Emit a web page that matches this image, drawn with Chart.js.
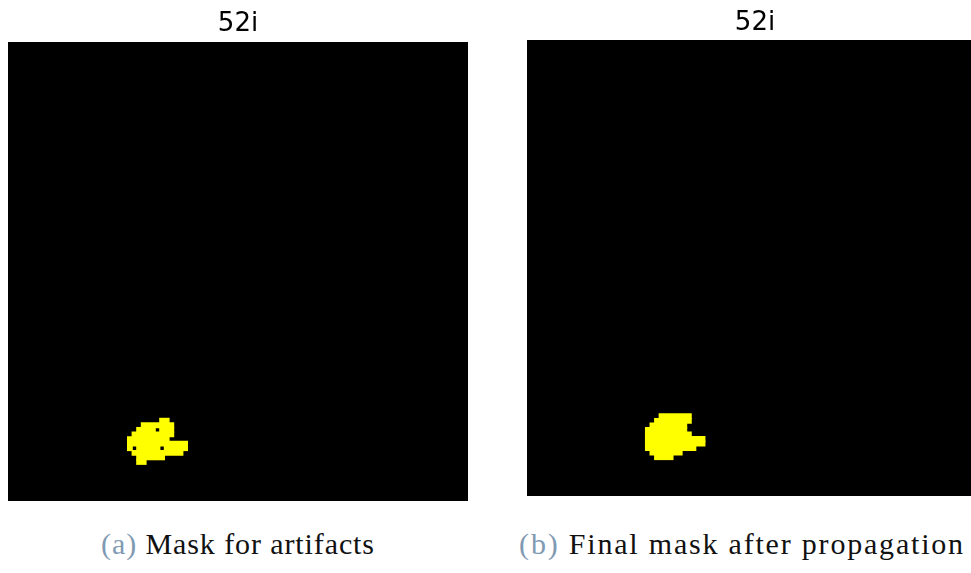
<!DOCTYPE html>
<html>
<head>
<meta charset="utf-8">
<script src="https://cdn.jsdelivr.net/npm/chart.js@4.4.0/dist/chart.umd.min.js"></script>
<style>
  html, body { margin: 0; padding: 0; background: #fff; overflow: hidden; }
  body { width: 971px; height: 573px; position: relative; }
  canvas { position: absolute; top: 0; }
  #maskA { left: 8px; }
  #maskB { left: 527px; }
  .caption {
    position: absolute;
    top: 527px;
    font-family: "Liberation Serif", serif;
    font-size: 30px;
    color: #111;
    white-space: nowrap;
    transform: translateX(-50%);
  }
  .caption span { color: #7f9ab3; }
</style>
</head>
<body>
<canvas id="maskA" width="460" height="501"></canvas>
<canvas id="maskB" width="456" height="496"></canvas>
<div class="caption" style="left:238px; letter-spacing:0.9px"><span>(a)</span> Mask for artifacts</div>
<div class="caption" style="left:742px; letter-spacing:1.8px"><span>(b)</span> Final mask after propagation</div>
<script>
// mask rows 0..99, columns 0..100 (one unit = one mask pixel)
const panelTitles = ["52i", "52i"];

// (a) mask for artifacts: one entry per run of yellow pixels
const artifactRows  = [82, 83, 84, 84, 85, 86, 87, 88, 88, 88, 89, 90, 91];
const artifactStart = [33, 29, 28, 33, 27, 26, 26, 26, 28, 34, 27, 28, 28];
const artifactEnd   = [35, 36, 32, 36, 36, 35, 39, 27, 33, 39, 38, 34, 30];

// (b) final mask after propagation
const finalRows  = [82, 83, 84, 85, 86, 87, 88, 89, 90, 91];
const finalStart = [29, 28, 27, 26, 26, 26, 26, 26, 27, 28];
const finalEnd   = [36, 36, 35, 35, 36, 39, 39, 37, 34, 32];

const rowLabels = [];
for (let r = 0; r < 100; r++) rowLabels.push(r);

const blackArea = {
  id: "blackArea",
  beforeDatasetsDraw(chart) {
    const { ctx, chartArea } = chart;
    ctx.save();
    ctx.fillStyle = "#000";
    ctx.fillRect(chartArea.left, chartArea.top, chartArea.width, chartArea.height);
    ctx.restore();
  }
};

function dibujarMascara(id, titulo, filas, inicio, fin, padTop, padBottom) {
  const puntos = filas.map((f, i) => ({ y: f, x: [inicio[i], fin[i]] }));
  const ctx = document.getElementById(id).getContext("2d");
  return new Chart(ctx, {
    type: "bar",
    data: {
      labels: rowLabels,
      datasets: [{
        data: puntos,
        backgroundColor: "#ffff00",
        borderWidth: 0,
        inflateAmount: 0.6,
        grouped: false,
        categoryPercentage: 1,
        barPercentage: 1
      }]
    },
    options: {
      indexAxis: "y",
      responsive: false,
      animation: false,
      layout: { padding: 0 },
      scales: {
        x: { type: "linear", min: 0, max: 100, display: false },
        y: { type: "category", display: false }
      },
      plugins: {
        legend: { display: false },
        tooltip: { enabled: false },
        title: {
          display: true,
          text: titulo,
          color: "#000",
          font: { family: "DejaVu Sans", size: 26, weight: "normal" },
          padding: { top: padTop, bottom: padBottom }
        }
      }
    },
    plugins: [blackArea]
  });
}

dibujarMascara("maskA", panelTitles[0], artifactRows, artifactStart, artifactEnd, 9, 1.8);
dibujarMascara("maskB", panelTitles[1], finalRows, finalStart, finalEnd, 8, 0.8);
</script>
</body>
</html>
